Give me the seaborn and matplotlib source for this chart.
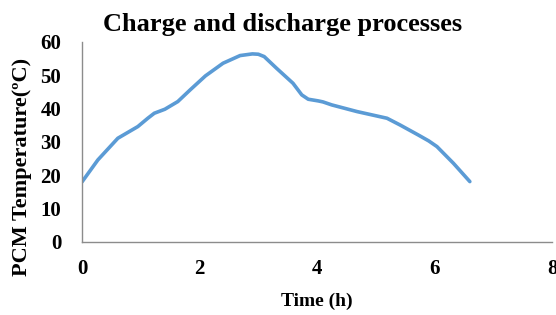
import matplotlib
matplotlib.use("Agg")
import matplotlib.pyplot as plt
import seaborn as sns
import pandas as pd

time_h = [0.0, 0.27, 0.61, 0.95, 1.12, 1.23, 1.41, 1.63, 1.84, 2.10, 2.40, 2.69, 2.90, 3.00,
          3.10, 3.31, 3.59, 3.74, 3.85, 4.02, 4.10, 4.25, 4.68, 5.19, 5.41, 5.72, 5.90,
          6.04, 6.32, 6.60]
temp_c = [18.0, 24.6, 31.1, 34.6, 37.1, 38.6, 39.8, 42.1, 45.6, 49.8, 53.6, 55.9, 56.4, 56.3,
          55.6, 52.1, 47.6, 44.1, 42.8, 42.3, 42.0, 41.1, 39.1, 37.1, 35.1, 32.1, 30.3,
          28.6, 23.6, 18.1]
x_ticks = [0, 2, 4, 6, 8]
y_ticks = [0, 10, 20, 30, 40, 50, 60]

sns.set_theme(style="white")
plt.rcParams['font.family'] = ['Liberation Serif', 'DejaVu Serif']
plt.rcParams['text.color'] = 'black'
plt.rcParams['axes.labelcolor'] = 'black'
plt.rcParams['xtick.color'] = 'black'
plt.rcParams['ytick.color'] = 'black'

df = pd.DataFrame({"Time (h)": time_h, "Temp": temp_c})

fig = plt.figure(figsize=(5.56, 3.15), dpi=100)
ax = fig.add_axes([0.1475, 0.232, 0.8455, 0.635])
sns.lineplot(data=df, x="Time (h)", y="Temp", ax=ax, color="#5B9BD5", linewidth=2.6, sort=False)

ax.set_xlim(0, 8)
ax.set_ylim(0, 60)
ax.set_xticks(x_ticks)
ax.set_yticks(y_ticks)
ax.set_xticklabels([str(v) for v in x_ticks], fontsize=15, fontweight="bold")
ax.set_yticklabels([str(v) for v in y_ticks], fontsize=15, fontweight="bold")
ax.tick_params(axis="y", length=0, pad=15)
ax.tick_params(axis="x", length=0, pad=12)

for s in ["top", "right"]:
    ax.spines[s].set_visible(False)
for s in ["left", "bottom"]:
    ax.spines[s].set_color("#8C8C8C")
    ax.spines[s].set_linewidth(1.0)

ax.set_xlabel("Time (h)", fontsize=14, fontweight="bold")
ax.xaxis.set_label_coords(0.5, -0.255)
ax.set_ylabel("PCM Temperature(ºC)", fontsize=16, fontweight="bold")
ax.yaxis.set_label_coords(-0.106, 0.375)
fig.text(283 / 556, 1 - 24 / 315, "Charge and discharge processes", fontsize=19,
         fontweight="bold", ha="center", va="center")

fig.savefig("out.png", dpi=100)
